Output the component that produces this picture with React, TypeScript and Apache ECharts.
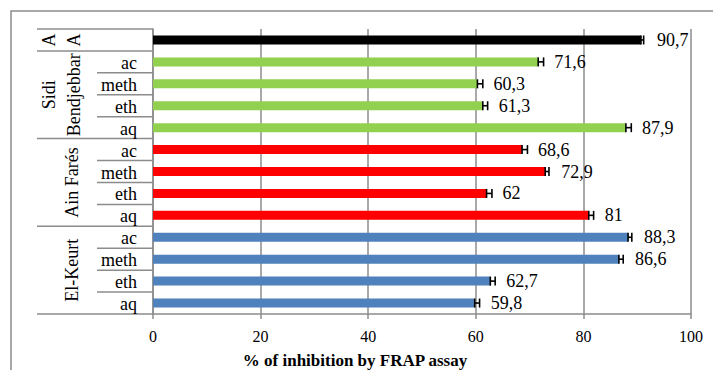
import React, { useEffect, useRef } from "react";
import * as echarts from "echarts";

// rows top-to-bottom
const innerLabels = ["", "ac", "meth", "eth", "aq", "ac", "meth", "eth", "aq", "ac", "meth", "eth", "aq"];
const values = [90.7, 71.6, 60.3, 61.3, 87.9, 68.6, 72.9, 62, 81, 88.3, 86.6, 62.7, 59.8];
const errors = [0.5, 1.0, 1.0, 0.9, 1.0, 1.0, 0.7, 1.0, 0.9, 0.7, 0.8, 0.9, 0.9];
const barColors = [
  "#000000",
  "#92D050", "#92D050", "#92D050", "#92D050",
  "#FF0000", "#FF0000", "#FF0000", "#FF0000",
  "#4F81BD", "#4F81BD", "#4F81BD", "#4F81BD",
];
const groups = [
  { name: "A\nA", start: 0, end: 0 },
  { name: "Sidi\nBendjebbar", start: 1, end: 4 },
  { name: "Ain Farés", start: 5, end: 8 },
  { name: "El-Keurt", start: 9, end: 12 },
];
const xTicks = [0, 20, 40, 60, 80, 100];
const xTitle = "% of inhibition by FRAP assay";

const FONT = "Times New Roman, Liberation Serif, serif";
const GRAY = "#8c8c8c";

export default function App() {
  const ref = useRef<HTMLDivElement>(null);
  useEffect(() => {
    if (!ref.current) return;
    const chart = echarts.init(ref.current, null, { renderer: "svg" });
    const cats = innerLabels.map((_, i) => "r" + i);
    const groupEndRows = new Set(groups.map((g) => g.end));

    chart.setOption({
      animation: false,
      textStyle: { fontFamily: FONT },
      grid: { left: 153, right: 22, top: 29, bottom: 56, containLabel: false },
      graphic: [
        {
          type: "rect",
          shape: { x: 11, y: 11, width: 760, height: 420 },
          style: { fill: "none", stroke: GRAY, lineWidth: 1.5 },
          silent: true,
          z: -10,
        },
        {
          type: "text",
          x: 355,
          y: 360,
          style: {
            text: xTitle,
            fontFamily: FONT,
            fontSize: 17,
            fontWeight: "bold",
            fill: "#000",
            textAlign: "center",
            textVerticalAlign: "middle",
          },
        },
      ],
      xAxis: {
        type: "value",
        min: 0,
        max: 100,
        interval: 20,
        axisLine: { show: true, lineStyle: { color: GRAY, width: 1.5 } },
        axisTick: { show: true, length: 5, lineStyle: { color: GRAY, width: 1.5 } },
        axisLabel: {
          margin: 14,
          fontFamily: FONT,
          fontSize: 16,
          color: "#000",
          formatter: (v: number) => (xTicks.includes(v) ? String(v) : ""),
        },
        splitLine: { show: true, lineStyle: { color: GRAY, width: 1.5 } },
      },
      yAxis: {
        type: "category",
        data: cats,
        inverse: true,
        axisLine: { show: true, lineStyle: { color: GRAY, width: 1.5 } },
        axisTick: { show: false },
        axisLabel: { show: false },
        splitLine: { show: false },
      },
      series: [
        {
          type: "bar",
          barWidth: 9,
          data: values.map((v, i) => ({ value: v, itemStyle: { color: barColors[i] } })),
          label: {
            show: true,
            position: "right",
            distance: 16,
            fontFamily: FONT,
            fontSize: 18,
            color: "#000",
            formatter: (p: any) => String(p.value).replace(".", ","),
          },
          z: 2,
        },
        {
          type: "custom",
          clip: false,
          silent: true,
          z: 3,
          data: values.map((v, i) => [v, i, errors[i]]),
          encode: { x: 0, y: 1 },
          renderItem: (params: any, api: any) => {
            const v = api.value(0);
            const r = api.value(1);
            const e = api.value(2);
            const p0 = api.coord([v, r]);
            const p1 = api.coord([v + e, r]);
            const h = 4.5;
            const st = { stroke: "#000", lineWidth: 1.6 };
            return {
              type: "group",
              children: [
                { type: "line", shape: { x1: p0[0], y1: p0[1], x2: p1[0], y2: p1[1] }, style: st },
                { type: "line", shape: { x1: p1[0], y1: p1[1] - h, x2: p1[0], y2: p1[1] + h }, style: st },
                { type: "line", shape: { x1: p0[0], y1: p0[1] - h, x2: p0[0], y2: p0[1] + h }, style: st },
              ],
            };
          },
        },
        {
          type: "custom",
          clip: false,
          silent: true,
          z: 4,
          data: innerLabels.map((_, i) => [0, i]),
          encode: { x: 0, y: 1 },
          renderItem: (params: any, api: any) => {
            const r = api.value(1);
            const c = api.coord([0, r]);
            const band = api.size([0, 1])[1];
            const ax = c[0];
            const yb = c[1] + band / 2;
            const yt = c[1] - band / 2;
            const st = { stroke: GRAY, lineWidth: 1.5 };
            const children: any[] = [];
            const x0 = groupEndRows.has(r) ? ax - 116 : ax - 56;
            children.push({ type: "line", shape: { x1: x0, y1: yb, x2: ax, y2: yb }, style: st });
            if (r === 0) {
              children.push({ type: "line", shape: { x1: ax - 116, y1: yt, x2: ax, y2: yt }, style: st });
            }
            const lbl = innerLabels[r];
            if (lbl) {
              children.push({
                type: "text",
                x: ax - 16,
                y: c[1] + 1,
                style: {
                  text: lbl,
                  fontFamily: FONT,
                  fontSize: 18,
                  fill: "#000",
                  textAlign: "right",
                  textVerticalAlign: "middle",
                },
              });
            }
            return { type: "group", children };
          },
        },
        {
          type: "custom",
          clip: false,
          silent: true,
          z: 4,
          data: groups.map((g) => [0, g.start, g.end]),
          encode: { x: 0, y: 1 },
          renderItem: (params: any, api: any) => {
            const g = groups[params.dataIndex];
            const a = api.coord([0, g.start]);
            const b = api.coord([0, g.end]);
            const cy = (a[1] + b[1]) / 2;
            const twoLine = g.name.includes("\n");
            const cx = twoLine ? a[0] - 92 : a[0] - 81;
            return {
              type: "text",
              x: cx,
              y: cy,
              rotation: Math.PI / 2,
              style: {
                text: g.name,
                fontFamily: FONT,
                fontSize: 18,
                fill: "#000",
                textAlign: "center",
                textVerticalAlign: "middle",
                lineHeight: 25,
              },
            };
          },
        },
      ],
    });
    return () => chart.dispose();
  }, []);
  return (
    <div
      ref={ref}
      style={{ position: "fixed", left: 0, top: 0, width: 713, height: 370, background: "#fff" }}
    />
  );
}
